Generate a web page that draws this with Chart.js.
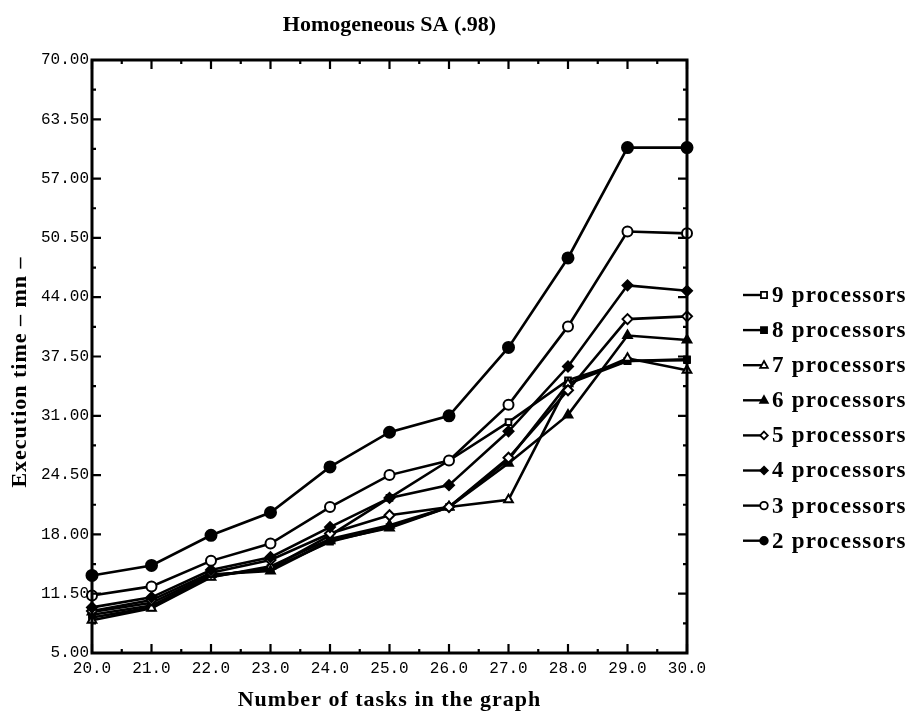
<!DOCTYPE html>
<html>
<head>
<meta charset="utf-8">
<script src="https://cdn.jsdelivr.net/npm/chart.js@4.4.1/dist/chart.umd.min.js"></script>
<style>
html,body{margin:0;padding:0;background:#fff;}
#wrap{width:923px;height:722px;position:relative;}
</style>
</head>
<body>
<div id="wrap"><canvas id="c" width="923" height="722"></canvas></div>
<script>
// ---- data ----
const tasks = [20, 21, 22, 23, 24, 25, 26, 27, 28, 29, 30];
const p9 = [8.9, 10.0, 13.4, 14.3, 17.9, 22.0, 26.1, 30.3, 34.9, 37.0, 37.1];
const p8 = [9.2, 10.2, 13.5, 14.2, 17.2, 18.8, 21.0, 26.2, 34.5, 37.0, 37.2];
const p7 = [8.6, 9.9, 13.3, 14.5, 17.5, 19.0, 21.0, 21.8, 34.5, 37.3, 36.0];
const p6 = [9.5, 10.5, 13.6, 14.0, 17.3, 18.7, 21.0, 25.8, 31.1, 39.8, 39.3];
const p5 = [9.6, 10.8, 13.8, 15.2, 18.1, 20.1, 21.0, 26.4, 33.8, 41.6, 41.9];
const p4 = [10.0, 11.1, 14.1, 15.5, 18.8, 22.0, 23.4, 29.3, 36.4, 45.3, 44.7];
const p3 = [11.3, 12.3, 15.1, 17.0, 21.0, 24.5, 26.1, 32.2, 40.8, 51.2, 51.0];
const p2 = [13.5, 14.6, 17.9, 20.4, 25.4, 29.2, 31.0, 38.5, 48.3, 60.4, 60.4];
const seriesLabels = ['9 processors', '8 processors', '7 processors', '6 processors',
                      '5 processors', '4 processors', '3 processors', '2 processors'];
const xTickValues = [20, 21, 22, 23, 24, 25, 26, 27, 28, 29, 30];
const yTickValues = [5, 11.5, 18, 24.5, 31, 37.5, 44, 50.5, 57, 63.5, 70];
const chartTitle = 'Homogeneous SA (.98)';
const xTitle = 'Number of tasks in the graph';
const yTitle = 'Execution time – mn –';

// ---- styles ----
const seriesValues = [p9, p8, p7, p6, p5, p4, p3, p2];
const markerStyle = [
  ['rect', false], ['rect', true], ['triangle', false], ['triangle', true],
  ['rectRot', false], ['rectRot', true], ['circle', false], ['circle', true]
];
const markerRadius = [4, 4, 5, 5, 5, 5, 5, 5.5];
const serif = '"Liberation Serif", "Times New Roman", serif';

const datasets = seriesValues.map((vals, i) => ({
  label: seriesLabels[i],
  data: tasks.map((t, j) => ({x: t, y: vals[j]})),
  borderColor: '#000',
  backgroundColor: markerStyle[i][1] ? '#000' : '#fff',
  borderWidth: 2.6,
  pointStyle: markerStyle[i][0],
  pointRadius: markerRadius[i],
  pointBorderWidth: 2,
  pointBackgroundColor: markerStyle[i][1] ? '#000' : '#fff',
  pointBorderColor: '#000',
  tension: 0,
  fill: false
})).reverse();

function drawMarkerPath(ctx, style, x, y, r) {
  if (style === 'circle') {
    ctx.arc(x, y, r, 0, Math.PI * 2);
  } else if (style === 'rect') {
    ctx.rect(x - r * 0.8, y - r * 0.8, r * 1.6, r * 1.6);
  } else if (style === 'triangle') {
    ctx.moveTo(x, y - r * 1.1); ctx.lineTo(x + r, y + r * 0.7); ctx.lineTo(x - r, y + r * 0.7); ctx.closePath();
  } else if (style === 'rectRot') {
    ctx.moveTo(x, y - r); ctx.lineTo(x + r, y); ctx.lineTo(x, y + r); ctx.lineTo(x - r, y); ctx.closePath();
  }
}

const frame = {
  id: 'frame',
  afterDraw(chart) {
    const ctx = chart.ctx;
    const a = chart.chartArea;
    const xs = chart.scales.x, ys = chart.scales.y;
    ctx.save();
    ctx.strokeStyle = '#000';
    ctx.lineWidth = 3;
    ctx.strokeRect(a.left, a.top, a.right - a.left, a.bottom - a.top);
    ctx.lineWidth = 2.2;
    for (let i = 0; i < xTickValues.length; i++) {
      const v = xTickValues[i];
      const px = xs.getPixelForValue(v);
      ctx.beginPath();
      ctx.moveTo(px, a.bottom); ctx.lineTo(px, a.bottom - 9);
      ctx.moveTo(px, a.top); ctx.lineTo(px, a.top + 9);
      ctx.stroke();
      if (i < xTickValues.length - 1) {
        const pm = xs.getPixelForValue((v + xTickValues[i + 1]) / 2);
        ctx.beginPath();
        ctx.moveTo(pm, a.bottom); ctx.lineTo(pm, a.bottom - 4);
        ctx.moveTo(pm, a.top); ctx.lineTo(pm, a.top + 4);
        ctx.stroke();
      }
    }
    for (let i = 0; i < yTickValues.length; i++) {
      const v = yTickValues[i];
      const py = ys.getPixelForValue(v);
      ctx.beginPath();
      ctx.moveTo(a.left, py); ctx.lineTo(a.left + 9, py);
      ctx.moveTo(a.right, py); ctx.lineTo(a.right - 9, py);
      ctx.stroke();
      if (i < yTickValues.length - 1) {
        const pm = ys.getPixelForValue((v + yTickValues[i + 1]) / 2);
        ctx.beginPath();
        ctx.moveTo(a.left, pm); ctx.lineTo(a.left + 4, pm);
        ctx.moveTo(a.right, pm); ctx.lineTo(a.right - 4, pm);
        ctx.stroke();
      }
    }
    ctx.fillStyle = '#000';
    ctx.textBaseline = 'middle';
    ctx.textAlign = 'center';
    // chart title
    ctx.font = 'bold 22px ' + serif;
    ctx.fillText(chartTitle, (a.left + a.right) / 2, 25);
    // x-axis title
    ctx.font = 'bold 22px ' + serif;
    ctx.letterSpacing = '1px';
    ctx.fillText(xTitle, (a.left + a.right) / 2, 700);
    // y-axis title
    ctx.save();
    ctx.translate(20, 372);
    ctx.rotate(-Math.PI / 2);
    ctx.fillText(yTitle, 0, 0);
    ctx.restore();
    // legend
    const legendY0 = 295, legendDy = 35.1;
    ctx.font = 'bold 23px ' + serif;
    ctx.letterSpacing = '1.2px';
    ctx.textAlign = 'left';
    seriesLabels.forEach((lab, i) => {
      const y = legendY0 + i * legendDy;
      ctx.strokeStyle = '#000';
      ctx.lineWidth = 2.4;
      ctx.beginPath();
      ctx.moveTo(743, y); ctx.lineTo(763, y);
      ctx.stroke();
      ctx.fillStyle = markerStyle[i][1] ? '#000' : '#fff';
      ctx.lineWidth = 1.8;
      ctx.beginPath();
      drawMarkerPath(ctx, markerStyle[i][0], 764, y, 3.8);
      ctx.fill(); ctx.stroke();
      ctx.fillStyle = '#000';
      ctx.fillText(lab, 772, y + 1);
    });
    ctx.letterSpacing = '0px';
    ctx.restore();
  }
};

new Chart(document.getElementById('c'), {
  type: 'line',
  data: {datasets},
  plugins: [frame],
  options: {
    responsive: false,
    animation: false,
    clip: false,
    layout: {padding: {top: 60, right: 236, left: 0, bottom: 0}},
    plugins: {legend: {display: false}, tooltip: {enabled: false}, title: {display: false}},
    scales: {
      x: {
        type: 'linear', min: 20, max: 30,
        afterFit(s) { s.height = 69; },
        afterBuildTicks(s) { s.ticks = xTickValues.map(v => ({value: v})); },
        grid: {display: false, drawTicks: false},
        border: {display: false},
        ticks: {
          color: '#000', padding: 6,
          font: {family: '"Liberation Mono", "DejaVu Sans Mono", monospace', size: 16},
          callback: v => Number(v).toFixed(1), maxRotation: 0, autoSkip: false
        },
        title: {display: false}
      },
      y: {
        type: 'linear', min: 5, max: 70,
        afterFit(s) { s.width = 92; },
        afterBuildTicks(s) { s.ticks = yTickValues.map(v => ({value: v})); },
        grid: {display: false, drawTicks: false},
        border: {display: false},
        ticks: {
          color: '#000', padding: 3,
          font: {family: '"Liberation Mono", "DejaVu Sans Mono", monospace', size: 16},
          callback: v => Number(v).toFixed(2), autoSkip: false
        },
        title: {display: false}
      }
    }
  }
});
</script>
</body>
</html>
